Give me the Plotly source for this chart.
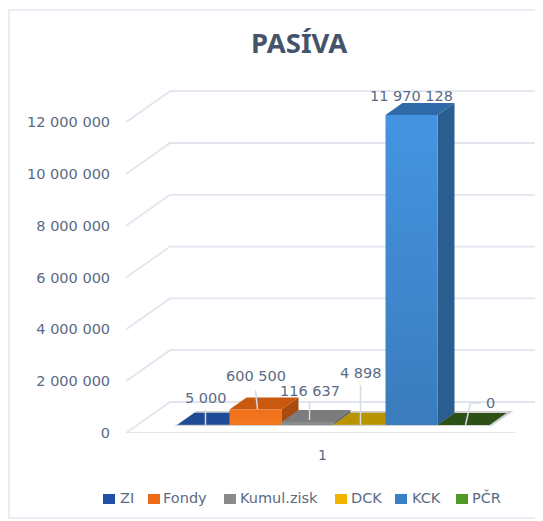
import plotly.graph_objects as go

# ---- data ----
series = ["ZI", "Fondy", "Kumul.zisk", "DCK", "KCK", "PČR"]
values = [5000, 600500, 116637, 4898, 11970128, 0]
value_labels = ["5 000", "600 500", "116 637", "4 898", "11 970 128", "0"]
tick_values = [0, 2000000, 4000000, 6000000, 8000000, 10000000, 12000000]
tick_labels = ["0", "2 000 000", "4 000 000", "6 000 000", "8 000 000", "10 000 000", "12 000 000"]
category = "1"

# ---- styling / layout geometry (pixels, page has an 8px body margin) ----
PAGE = 8
W, H = 543 - PAGE, 521 - PAGE
L, B, T = 126 - PAGE, 88, 60 - PAGE
PX_PER_VALUE = 25.9e-6
PX_PER_CAT = 52.0
front = ["#1f4a96", "#ef6f18", "#8b8b8b", "#bd9800", "#4594e2", "#3f7a22"]
front_low = ["#1f4a96", "#f47a22", "#8b8b8b", "#bd9800", "#3a7cbc", "#3f7a22"]
top = ["#1f4a96", "#c9590f", "#7c7c7c", "#b89400", "#2f6ba8", "#2d5016"]
side = ["#173a78", "#a94b0d", "#6c6c6c", "#8f7400", "#2b5e90", "#234010"]
grid = "#e1e5ee"
text_col = "#5b6b86"
title_col = "#44546a"
font = "DejaVu Sans"


def xu(px):  # horizontal pixel distance -> axis units
    return px / PX_PER_CAT


def yu(px):  # vertical pixel distance -> value units
    return px / PX_PER_VALUE


def xp(px):  # reference page pixel -> paper fraction
    return (px - PAGE - L) / (W - L)


def yp(py):
    return (H - B - (py - PAGE)) / (H - B - T)


fig = go.Figure()

# wall/floor gridlines
FLOOR_W = xu(389)
BACK_X, BACK_Y = xu(44), yu(31)
for v in tick_values:
    xs = [0, BACK_X, xu(W)]
    ys = [v, v + BACK_Y, v + BACK_Y]
    if v == 0:
        xs = [FLOOR_W] + [0] + xs[1:]
        ys = [0] + [0] + ys[1:]
    fig.add_trace(go.Scatter(x=xs, y=ys, mode="lines", line=dict(color=grid, width=1.8),
                             showlegend=False, hoverinfo="skip"))

n = len(series)
cx = FLOOR_W / 2 + xu(13)
D0Y = yu(8)
DX, DY = xu(17), yu(12)

# soft floor shadow under the bars
x_a = cx - n / 2 - xu(3)
x_b = cx + n / 2 + xu(2)
fig.add_trace(go.Scatter(
    x=[x_a, x_a + DX + xu(5), x_b + DX + xu(5), x_b],
    y=[D0Y - yu(1), D0Y + DY + yu(2), D0Y + DY + yu(2), D0Y - yu(1)],
    mode="lines", fill="toself", fillcolor="rgba(120,120,120,0.35)", line=dict(width=0),
    showlegend=False, hoverinfo="skip"))

# bars: each is a projected box drawn through the axes
for i, (name, v) in enumerate(zip(series, values)):
    x0 = cx + (i - n / 2)
    x1 = x0 + 1
    b = D0Y
    t = D0Y + v
    fig.add_trace(go.Scatter(
        x=[x0, x0 + DX, x1 + DX, x1], y=[t, t + DY, t + DY, t],
        mode="lines", fill="toself", fillcolor=top[i], line=dict(width=0),
        showlegend=False, hoverinfo="skip"))
    fig.add_trace(go.Scatter(
        x=[x1, x1 + DX, x1 + DX, x1], y=[b, b + DY, t + DY, t],
        mode="lines", fill="toself", fillcolor=side[i], line=dict(width=0),
        showlegend=False, hoverinfo="skip"))
    fig.add_trace(go.Scatter(
        x=[x0, x1, x1, x0], y=[b, b, t, t],
        mode="lines", fill="toself", line=dict(width=0),
        fillgradient=dict(type="vertical", colorscale=[[0, front_low[i]], [1, front[i]]]),
        name=name, showlegend=False, hovertemplate=name + ": %{customdata}<extra></extra>",
        customdata=[value_labels[i]] * 4))

# leader lines (pixel offsets relative to the top-centre of each bar's front face)
leaders = [
    [(2, 0), (2, -15)],
    [(2, 0), (0, -19)],
    [(2, -2), (2, -20)],
    [(1, 0), (1, -40)],
    None,
    [(2, 0), (7, -22), (17, -22)],
]
label_off = [(2, -27), (0, -33), (2, -31), (1, -52), (0, -19), (27, -22)]
annotations = []
for i, v in enumerate(values):
    xc = cx + (i - n / 2) + 0.5
    yt = D0Y + v
    if leaders[i]:
        fig.add_trace(go.Scatter(
            x=[xc + xu(a) for a, _ in leaders[i]],
            y=[yt - yu(c) for _, c in leaders[i]],
            mode="lines", line=dict(color="#d5dae4", width=1.5),
            showlegend=False, hoverinfo="skip"))
    annotations.append(dict(
        x=xc, y=yt, xref="x", yref="y", text=value_labels[i], showarrow=False,
        xanchor="center", yanchor="middle",
        xshift=label_off[i][0], yshift=-label_off[i][1],
        font=dict(family=font, size=14.5, color=text_col)))

# legend row
legend_sw = [103, 148, 224, 335, 395, 456]
legend_tx = [120, 163, 240, 351, 412, 472]
legend_col = ["#2250a5", "#ed6b14", "#8a8a8a", "#f0b400", "#3a80c4", "#4f9a26"]
shapes = []
for s, tx, c, name in zip(legend_sw, legend_tx, legend_col, series):
    shapes.append(dict(type="rect", xref="paper", yref="paper",
                       x0=xp(s), x1=xp(s + 12), y0=yp(504), y1=yp(494),
                       fillcolor=c, line=dict(width=0)))
    annotations.append(dict(x=xp(tx), y=yp(498), xref="paper", yref="paper", text=name,
                            xanchor="left", yanchor="middle", showarrow=False,
                            xshift=-2,
                            font=dict(family=font, size=14.5, color=text_col)))
# outer chart frame
shapes.append(dict(type="rect", xref="paper", yref="paper",
                   x0=xp(9), x1=xp(W + 20), y0=yp(518), y1=yp(10),
                   fillcolor="rgba(0,0,0,0)", line=dict(color="#e3e7f0", width=1.5)))
annotations.append(dict(x=xp(299), y=yp(43), xref="paper", yref="paper", text="<b>PASÍVA</b>",
                        xanchor="center", yanchor="middle", showarrow=False,
                        font=dict(family="Noto Sans", size=27.5, color=title_col)))

fig.update_layout(
    width=W, height=H, autosize=False,
    margin=dict(l=L, r=0, t=T, b=B),
    paper_bgcolor="white", plot_bgcolor="white", showlegend=False,
    annotations=annotations, shapes=shapes,
    xaxis=dict(range=[0, xu(W - L)], tickmode="array", tickvals=[FLOOR_W / 2 + xu(2)], ticktext=[category],
               showgrid=False, zeroline=False, showline=False, ticks="outside", ticklen=9,
               tickcolor="rgba(0,0,0,0)", tickfont=dict(family=font, size=14, color=text_col)),
    yaxis=dict(range=[0, yu(H - B - T)], tickmode="array", tickvals=tick_values, ticktext=tick_labels,
               showgrid=False, zeroline=False, showline=False, ticks="outside", ticklen=12,
               tickcolor="rgba(0,0,0,0)", tickfont=dict(family=font, size=14.5, color=text_col)),
)
fig.write_html("out.html")
